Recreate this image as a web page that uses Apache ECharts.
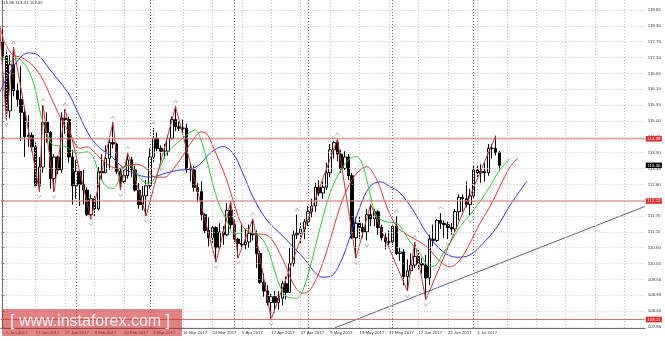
<!DOCTYPE html>
<html><head><meta charset="utf-8">
<script src="https://cdn.jsdelivr.net/npm/echarts@6/dist/echarts.min.js"></script>
<style>html,body{margin:0;padding:0;background:#fff}#c{width:665px;height:341px}</style>
</head><body><div id="c"></div>
<script>
// ---- trading days (categories) ----
const janDays=[4,5,6,9,10,11,12,13,16,17,18,19,20,23,24,25,26,27,30,31];
const febDays=[1,2,3,6,7,8,9,10,13,14,15,16,17,20,21,22,23,24,27,28];
const marDays=[1,2,3,6,7,8,9,10,13,14,15,16,17,20,21,22,23,24,27,28,29,30,31];
const aprDays=[3,4,5,6,7,10,11,12,13,14,17,18,19,20,21,24,25,26,27,28];
const mayDays=[1,2,3,4,5,8,9,10,11,12,15,16,17,18,19,22,23,24,25,26,29,30,31];
const junDays=[1,2,5,6,7,8,9,12,13,14,15,16,19,20,21,22,23,26,27,28,29,30];
const julDays=[3,4,5,6,7,10,11,12];
const futureSlots=39;

// ---- daily candles [open, high, low, close] ----
const ohlc=[
[117.75,118.18,117.05,117.25],[117.25,117.45,115.05,115.35],[115.35,117.30,115.10,116.95],[116.95,117.55,115.85,116.05],
[116.05,116.30,115.50,115.75],[115.75,116.90,114.30,115.30],[115.30,115.45,113.75,114.45],[114.45,115.20,114.10,114.50],
[114.50,114.60,113.95,114.10],[114.10,114.25,112.70,112.75],[112.75,113.75,112.55,113.40],[113.40,115.55,113.20,114.95],
[114.95,115.30,114.25,114.60],[114.60,114.65,112.65,113.00],[113.00,113.85,112.55,113.75],[113.75,113.80,113.15,113.30],
[113.30,115.30,113.20,115.10],[115.10,115.40,114.55,115.05],[115.05,115.15,113.55,113.75],[113.75,114.00,112.10,112.75],
[112.75,113.65,112.30,113.25],[113.25,113.30,112.05,112.80],[112.80,113.30,112.10,112.60],[112.60,112.70,111.70,111.75],
[111.75,112.45,111.59,112.30],[112.30,112.40,111.70,111.95],[111.95,113.40,111.90,113.25],[113.25,113.85,112.95,113.20],
[113.20,114.15,113.20,113.70],[113.70,114.45,113.30,114.25],[114.25,114.95,114.05,114.20],[114.20,114.25,113.15,113.25],
[113.25,113.35,112.60,112.90],[112.90,113.30,112.85,113.10],[113.10,113.90,113.00,113.65],[113.65,113.75,113.05,113.30],
[113.30,113.45,112.55,112.60],[112.60,112.85,111.95,112.10],[112.10,112.75,111.90,112.40],[112.40,112.95,111.70,112.75],
[112.75,114.05,112.65,113.75],[113.75,114.75,113.55,114.40],[114.40,114.60,113.95,114.05],[114.05,114.15,113.50,113.95],
[113.95,114.20,113.70,113.95],[113.95,114.50,113.80,114.40],[114.40,115.15,114.35,115.05],[115.05,115.50,114.65,114.80],
[114.80,115.00,114.65,114.75],[114.75,115.05,114.55,114.75],[114.75,114.90,113.20,113.35],[113.35,113.55,112.90,113.30],
[113.30,113.45,112.55,112.70],[112.70,112.85,112.20,112.55],[112.55,112.90,111.55,111.75],[111.75,111.80,111.10,111.20],
[111.20,111.65,110.65,110.95],[110.95,111.35,110.75,111.30],[111.30,111.35,110.10,110.60],[110.60,111.45,110.55,111.15],
[111.15,111.35,110.70,111.05],[111.05,112.15,111.00,111.90],[111.90,112.20,111.25,111.40],[111.40,111.55,110.80,110.90],
[110.90,110.95,110.25,110.75],[110.75,111.40,110.60,110.70],[110.70,111.25,110.55,110.80],[110.80,111.40,110.60,111.10],
[111.10,111.60,110.85,111.05],[111.05,111.20,109.90,110.40],[110.40,110.50,109.35,109.40],[109.40,109.70,108.90,109.10],
[109.10,109.30,108.60,108.70],[108.70,109.00,108.13,108.90],[108.90,109.10,108.35,108.70],[108.70,109.10,108.45,108.85],
[108.85,109.45,108.60,109.35],[109.35,109.60,108.80,109.05],[109.05,110.60,109.05,110.05],[110.05,111.20,109.95,111.05],
[111.05,111.75,110.90,111.10],[111.10,111.45,110.75,111.25],[111.25,111.60,110.90,111.50],[111.50,112.05,111.35,111.85],
[111.85,112.30,111.65,112.05],[112.05,112.85,111.85,112.70],[112.70,112.95,112.40,112.50],[112.50,112.90,112.30,112.70],
[112.70,113.55,112.60,113.20],[113.20,114.20,113.05,114.00],[114.00,114.30,113.70,114.25],[114.25,114.37,113.60,113.85],
[113.85,114.00,113.20,113.35],[113.35,113.95,113.30,113.75],[113.75,113.85,112.95,113.10],[113.10,113.20,110.90,110.95],
[110.95,111.65,110.24,111.45],[111.45,111.70,110.90,111.30],[111.30,111.45,110.95,111.15],[111.15,111.95,110.85,111.75],
[111.75,112.10,111.35,111.60],[111.60,111.95,111.35,111.85],[111.85,111.90,111.05,111.30],[111.30,111.40,110.85,110.95],
[110.95,111.10,110.55,110.80],[110.80,111.20,110.70,110.80],[110.80,111.40,110.70,111.35],[111.35,111.70,110.35,110.40],
[110.40,110.60,110.15,110.45],[110.45,110.55,109.30,109.60],[109.60,110.20,109.10,109.80],[109.80,110.40,109.70,110.00],
[110.00,110.80,109.90,110.30],[110.30,110.55,109.85,110.05],[110.05,110.25,109.70,110.00],[110.00,110.35,108.80,109.55],
[109.55,111.05,109.30,110.90],[110.90,111.40,110.65,110.85],[110.85,111.60,110.80,111.55],[111.55,111.80,111.25,111.45],
[111.45,111.55,110.95,111.40],[111.40,111.50,110.90,111.30],[111.30,111.45,111.05,111.25],[111.25,111.95,111.15,111.85],
[111.85,112.45,111.55,112.35],[112.35,112.45,111.85,112.30],[112.30,112.90,112.00,112.10],[112.10,112.65,111.70,112.40],
[112.40,113.45,112.30,113.30],[113.30,113.45,113.05,113.20],[113.20,113.50,112.85,113.25],[113.25,113.55,112.90,113.20],
[113.20,114.20,113.10,114.05],[114.05,114.20,113.70,114.05],[114.05,114.49,113.80,113.90],[113.90,113.96,113.31,113.46]
];

// ---- Alligator lines [bar index, price] ----
const jawLine=[[-1,115.95],[0,116.21],[2,116.70],[4.7,117.18],[6.9,117.36],[9.6,117.29],[12.9,116.77],[15.6,116.35],[18.3,115.87],[21,115.15],[23.8,114.45],[26.5,114.05],[29.2,113.82],[31.9,113.47],[35.4,113.19],[40.1,113.05],[44.6,113.20],[48.2,113.30],[50.9,113.32],[53.6,113.50],[56.4,113.88],[59.9,114.11],[62.6,113.88],[65.3,113.18],[68,112.37],[71.8,111.56],[75.4,111.10],[78.9,110.64],[82.2,110.18],[84.5,109.80],[86.8,109.58],[89,109.60],[91.7,110.06],[94.4,110.98],[97.1,112.02],[99.8,112.72],[102.6,112.89],[105.3,112.72],[108,112.50],[111.5,111.91],[115.3,111.10],[119.7,110.46],[123.5,110.27],[127,110.35],[130.6,110.76],[134.4,111.33],[137.9,112.08],[142.5,112.92]];
const teethLine=[[-1,118.40],[0,117.95],[0.65,117.70],[2.8,117.29],[5.2,117.20],[8.3,116.91],[11,116.42],[13.7,115.66],[16.1,115.03],[18.3,114.55],[21,114.05],[22.9,114.10],[24.6,113.96],[26.5,113.71],[29,113.45],[31.5,113.35],[34,113.45],[36.5,113.50],[39,113.35],[41.5,113.05],[44,113.05],[46.5,113.35],[49,113.80],[51.5,114.30],[54,114.62],[55.5,114.55],[57.2,114.11],[60.9,112.95],[62.6,112.26],[65.3,111.33],[68,111.10],[71.8,111.04],[76.2,110.18],[78.9,109.37],[81.5,109.02],[83.5,109.13],[86.3,109.83],[89,110.87],[91.7,112.02],[94.4,112.84],[97.1,113.30],[98.9,113.41],[101.7,112.95],[104.4,112.02],[107.1,111.33],[109.3,111.10],[112,110.90],[115.2,110.64],[118.9,110.12],[121.6,109.94],[124.3,110.18],[127,110.76],[129.7,111.45],[132.4,112.02],[135.1,112.72],[137.9,113.41],[140,113.70]];
const lipsLine=[[-1,117.15],[0,117.15],[2,117.06],[3.8,117.17],[5.2,117.08],[7,116.77],[8.8,116.14],[10.2,115.31],[12,114.58],[13.8,114.16],[15.6,114.13],[17.4,114.10],[19.2,113.93],[21,113.89],[22.9,113.93],[24.6,113.75],[26.5,113.07],[28.3,112.72],[30.1,112.66],[31.9,113.07],[32.8,113.40],[34.6,113.47],[36.4,113.18],[39.2,112.84],[41,112.95],[42.8,113.41],[44.6,113.88],[47.3,114.22],[50,114.51],[52.3,114.69],[53.6,114.45],[55.5,113.65],[57.3,112.72],[59.1,112.02],[60.9,111.56],[62.7,111.10],[64.5,111.10],[66.3,111.27],[68.1,111.10],[69.9,110.98],[71.8,110.64],[73.6,109.94],[75.4,109.25],[77.2,108.90],[79.9,108.85],[81.5,109.10],[83.5,109.90],[86.3,111.30],[89,112.50],[91.7,113.25],[94.4,113.70],[96.2,113.76],[98,113.41],[99.8,112.49],[101.7,111.68],[104.4,111.50],[107.1,111.45],[109.3,111.10],[110.7,110.81],[113.4,110.41],[116.1,109.94],[117.8,110.00],[119.7,110.41],[121.6,110.76],[124.3,111.33],[127,111.74],[129.7,112.20],[132.4,112.72],[135.1,113.30],[137.9,113.70]];

// ---- ZigZag pivots, fractals, trendline ----
const zigzag=[[-1,118.60],[1,115.05],[3,117.55],[10,112.55],[11,115.55],[14,112.55],[17,115.40],[24,111.59],[30,114.95],[32,112.60],[34,113.90],[39,111.70],[47,115.50],[58,110.10],[62,112.20],[64,110.25],[68,111.60],[73,108.13],[91,114.37],[96,110.24],[100,112.10],[110,109.10],[112,110.80],[115,108.80],[134,114.49]];
const upFractals=[[3,117.55],[11,115.55],[17,115.40],[30,114.95],[34,113.90],[41,114.75],[47,115.50],[62,112.20],[68,111.60],[80,111.75],[91,114.37],[100,112.10],[107,111.70],[112,110.80],[119,111.80]];
const downFractals=[[1,115.05],[10,112.55],[14,112.55],[24,111.59],[32,112.60],[39,111.70],[43,113.50],[58,110.10],[64,110.25],[73,108.13],[96,110.24],[99,110.85],[110,109.10],[115,108.80],[121,110.90],[127,111.70]];
const trendLine=[[90.3,107.82],[174.5,112.03]];

// ---- levels and axis ticks ----
const redLevels=[114.38,112.22,108.11];
const lastPrice=113.46;
const yTicks=[107.85,108.40,108.95,109.50,110.05,110.60,111.15,111.70,112.25,112.80,113.35,113.90,114.45,115.00,115.55,116.10,116.65,117.20,117.75,118.30,118.85];
const xGridIdx=[1,9,17,25,33,41,49,57,65,73,81,89,97,105,113,121,129,137,145,153,161,169];
const monthSepIdx=[20,40,63,83,106,128];
const headerText='113.96 113.31 113.45';
const watermark='[ www.instaforex.com ]';

const dates=[].concat(
  janDays.map(d=>d+' Jan 2017'),febDays.map(d=>d+' Feb 2017'),marDays.map(d=>d+' Mar 2017'),
  aprDays.map(d=>d+' Apr 2017'),mayDays.map(d=>d+' May 2017'),junDays.map(d=>d+' Jun 2017'),julDays.map(d=>d+' Jul 2017'));
const categories=dates.concat(new Array(futureSlots).fill(''));
const candleData=ohlc.map(r=>[r[0],r[3],r[2],r[1]]);
const lastLabelIdx=dates.indexOf('4 Jul 2017');
const xMin=-0.5, xMax=categories.length-0.5;

const FONT='Liberation Sans';
const gridMarks=[].concat(
  yTicks.map(v=>({yAxis:v,lineStyle:{color:'#c4c4c4',type:[1,2],width:1}})),
  xGridIdx.map(v=>({xAxis:v,lineStyle:{color:'#c4c4c4',type:[1,2],width:1}})),
  monthSepIdx.map(v=>({xAxis:v,lineStyle:{color:'#6a6a6a',type:[1,2],width:1}}))
);
const hiddenLine={color:'rgba(0,0,0,0)',width:0};
const labelBox=(bg,txt)=>({show:true,position:'end',distance:1,backgroundColor:bg,color:'#fff',fontSize:4.4,fontFamily:FONT,padding:[1,1.5,0.5,1.5],formatter:()=>txt});

const levelSeries=redLevels.map(v=>({type:'line',xAxisIndex:1,data:[[xMin,v],[xMax,v]],showSymbol:false,silent:true,z:6,
  color:'#e07070',lineStyle:{color:'#e07070',width:1,type:'solid'}}));

const chart=echarts.init(document.getElementById('c'),null,{renderer:'canvas',width:665,height:341});
chart.setOption({
  animation:false,
  backgroundColor:'#ffffff',
  grid:{left:0.76,top:0,width:644,height:328},
  xAxis:[
    {type:'category',data:categories,boundaryGap:true,
     axisLine:{show:true,lineStyle:{color:'#6e6e6e',width:1}},
     axisTick:{show:false},
     axisLabel:{interval:(i)=>i>=1&&i<=lastLabelIdx&&(i-1)%8===0,align:'left',fontSize:4.3,color:'#333',margin:3,fontFamily:FONT},
     splitLine:{show:false}},
    {type:'value',min:xMin,max:xMax,show:false}
  ],
  yAxis:{type:'value',position:'right',min:107.815,max:119.197,
    axisLine:{show:true,lineStyle:{color:'#6e6e6e',width:1}},
    axisTick:{show:true,length:2,customValues:yTicks,lineStyle:{color:'#6e6e6e'}},
    axisLabel:{customValues:yTicks,fontSize:4.4,margin:3,color:'#333',fontFamily:FONT,formatter:v=>Number(v).toFixed(2)},
    splitLine:{show:false}},
  series:[
    {type:'line',xAxisIndex:1,data:[],z:1,silent:true,
     markLine:{silent:true,symbol:['none','none'],label:{show:false},animation:false,data:gridMarks}},
    {type:'candlestick',xAxisIndex:0,data:candleData,barWidth:3,z:3,
     itemStyle:{color:'#ffffff',color0:'#000000',borderColor:'#000000',borderColor0:'#000000',borderWidth:1}},
    {type:'line',xAxisIndex:1,data:jawLine,smooth:0.35,showSymbol:false,z:4,color:'#3535c8',lineStyle:{color:'#3535c8',width:1}},
    {type:'line',xAxisIndex:1,data:teethLine,smooth:0.35,showSymbol:false,z:4,color:'#d23a3a',lineStyle:{color:'#d23a3a',width:1}},
    {type:'line',xAxisIndex:1,data:lipsLine,smooth:0.35,showSymbol:false,z:4,color:'#33c433',lineStyle:{color:'#33c433',width:1}},
    {type:'line',xAxisIndex:1,data:zigzag,showSymbol:false,z:4,color:'#b83a3a',lineStyle:{color:'#b83a3a',width:1}},
    {type:'line',xAxisIndex:1,data:trendLine,showSymbol:false,z:4,color:'#4a4a80',lineStyle:{color:'#4a4a80',width:0.9}},
    {type:'scatter',xAxisIndex:1,data:upFractals,symbol:'path://M0,4L3,0L6,4',symbolSize:[4,3],symbolOffset:[0,-5],z:5,
     itemStyle:{color:'none',borderColor:'#8c8c8c',borderWidth:0.8}},
    {type:'scatter',xAxisIndex:1,data:downFractals,symbol:'path://M0,0L3,4L6,0',symbolSize:[4,3],symbolOffset:[0,5],z:5,
     itemStyle:{color:'none',borderColor:'#8c8c8c',borderWidth:0.8}},
    ...levelSeries,
    {type:'line',xAxisIndex:1,data:[],z:7,
     markLine:{silent:true,symbol:['none','none'],animation:false,
       lineStyle:hiddenLine,
       data:redLevels.map(v=>({yAxis:v,lineStyle:hiddenLine,label:labelBox('#e02a2a',v.toFixed(2))}))
        .concat([{yAxis:lastPrice,lineStyle:hiddenLine,label:labelBox('#000',lastPrice.toFixed(2))}])}}
  ],
  graphic:[
    {type:'text',left:1,top:1,z:10,style:{text:headerText,fontSize:4.4,fontFamily:FONT,fill:'#333'}},
    {type:'rect',shape:{x:2,y:309,width:180,height:27},z:20,style:{fill:'rgba(205,30,30,0.55)'}},
    {type:'text',x:10,y:322,z:21,style:{text:watermark,fontSize:16,fontFamily:FONT,fill:'rgba(255,255,255,0.92)',verticalAlign:'middle'}}
  ]
});
</script></body></html>
